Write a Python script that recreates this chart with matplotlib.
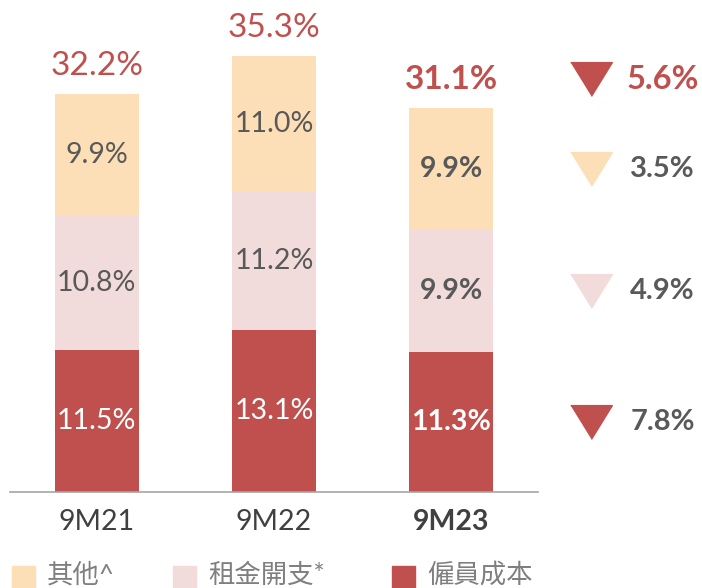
import matplotlib
matplotlib.use("Agg")
import matplotlib.pyplot as plt

plt.rcParams['font.family'] = ['Lato', 'Noto Sans CJK TC', 'DejaVu Sans']

categories = ["9M21", "9M22", "9M23"]
staff = [11.5, 13.1, 11.3]
rent = [10.8, 11.2, 9.9]
other = [9.9, 11.0, 9.9]
totals = [32.2, 35.3, 31.1]
changes = ["5.6%", "3.5%", "4.9%", "7.8%"]
legend_labels = ["其他^", "租金開支*", "僱員成本"]

RED = "#C0504D"
PEACH = "#FDDFB7"
PINK = "#F2DCDB"
GRAY = "#595959"

fig = plt.figure(figsize=(7.02, 5.88), dpi=100)
ax = fig.add_axes([10/702, (588-492)/588, 528/702, 492/588])
x = list(range(len(categories)))
w = 0.475
ax.bar(x, staff, w, color=RED)
ax.bar(x, rent, w, bottom=staff, color=PINK)
b2 = [s + r for s, r in zip(staff, rent)]
ax.bar(x, other, w, bottom=b2, color=PEACH)
ax.set_xlim(-0.49, 2.49)
ax.set_ylim(0, 492/12.36)
for s in ["top", "right", "left"]:
    ax.spines[s].set_visible(False)
ax.spines["bottom"].set_color("#A6A6A6")
ax.spines["bottom"].set_linewidth(1.2)
ax.set_yticks([])
ax.set_xticks(x)
ax.set_xticklabels(categories, fontsize=20.5, color="#404040")
ax.get_xticklabels()[2].set_fontweight("bold")
ax.tick_params(axis="x", length=0, pad=12)

for i in x:
    bold = "bold" if i == 2 else "normal"
    ax.text(i, staff[i] / 2, f"{staff[i]:.1f}%", ha="center", va="center",
            color="white", fontsize=20.5, fontweight=bold)
    ax.text(i, staff[i] + rent[i] / 2, f"{rent[i]:.1f}%", ha="center", va="center",
            color=GRAY, fontsize=20.5, fontweight=bold)
    ax.text(i, b2[i] + other[i] / 2, f"{other[i]:.1f}%", ha="center", va="center",
            color=GRAY, fontsize=20.5, fontweight=bold)
    ax.text(i, totals[i] + 1.5, f"{totals[i]:.1f}%", ha="center",
            va="baseline", color=RED, fontsize=24, fontweight=bold)

# change indicators beside 9M23
tri = [(-1, 0.81), (1, 0.81), (0, -0.81)]
ypos = [totals[2] + 2.3, b2[2] + other[2] / 2, staff[2] + rent[2] / 2, staff[2] / 2]
cols = [RED, PEACH, PINK, RED]
for k in range(4):
    ax.plot([2.79], [ypos[k]], marker=tri, markersize=30, color=cols[k],
            clip_on=False, linestyle="none")
    if k == 0:
        ax.text(2.99, ypos[k], changes[k], ha="left", va="center", color=RED,
                fontsize=23.5, fontweight="bold", clip_on=False)
    else:
        ax.text(3.01, ypos[k], changes[k], ha="left", va="center", color=GRAY,
                fontsize=21, fontweight="bold", clip_on=False)

legend_colors = [PEACH, PINK, RED]
xs = [12, 173, 392]
for c, lab, xx in zip(legend_colors, legend_labels, xs):
    fig.patches.append(plt.Rectangle((xx/702, 0), 23/702, 22/588,
                                     transform=fig.transFigure, color=c,
                                     figure=fig))
    fig.text((xx + 35)/702, (588-575)/588, lab, ha="left", va="center",
             fontsize=19, color="#7F7F7F")

fig.savefig("out.png", dpi=100)
